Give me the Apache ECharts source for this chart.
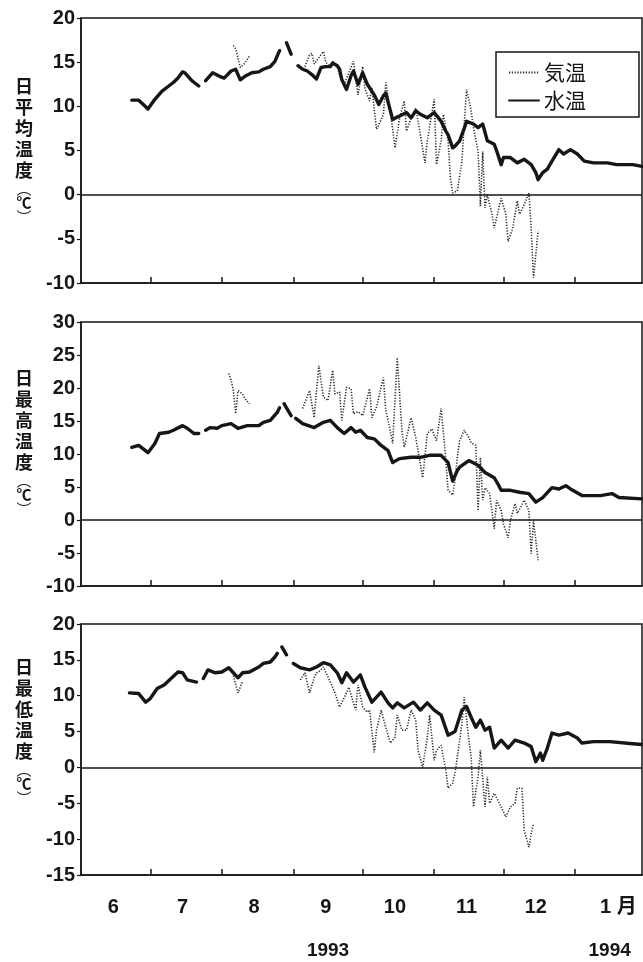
<!DOCTYPE html>
<html><head><meta charset="utf-8">
<script src="https://cdn.jsdelivr.net/npm/echarts@6/dist/echarts.min.js"></script>
<style>html,body{margin:0;padding:0;background:#fff}#c{width:643px;height:962px}</style>
</head><body><div id="c"></div>
<script>
// x values are days since 1993-06-01
const START = Date.UTC(1993, 5, 1);
function dayOf(y, m, d) { return Math.round((Date.UTC(y, m - 1, d) - START) / 86400000); }

const monthStartDates = [[1993,7,1],[1993,8,1],[1993,9,1],[1993,10,1],[1993,11,1],[1993,12,1],[1994,1,1]];
const monthLabels = ['6','7','8','9','10','11','12','1 月'];
const monthLabelDates = [[1993,6,15],[1993,7,15],[1993,8,15],[1993,9,15],[1993,10,15],[1993,11,15],[1993,12,15],[1994,1,15]];
const yearLabels = ['1993','1994'];
const yearLabelDates = [[1993,9,16],[1994,1,16]];
const axisEndDate = [1994,1,30];

const panelTitles = ['日平均温度','日最高温度','日最低温度'];
const yMins = [-10, -10, -15];
const yMaxs = [20, 30, 20];
const seriesNames = ['気温', '水温'];

// daily mean
const waterMean = [[22,10.7],[25,10.7],[27,10.2],[29,9.7],[32,10.8],[35,11.7],[38,12.3],[40,12.7],[42,13.2],[44,13.9],[45,13.8],[48,12.9],[50,12.5],[51,12.3],null,
[54,12.9],[57,13.8],[60,13.4],[62,13.2],[65,14.0],[67,14.2],[69,13.0],[71,13.4],[74,13.8],[77,13.9],[79,14.2],[82,14.5],[84,15.1],[86,16.3],null,
[89,17.2],[91,15.9],null,
[94,14.6],[96,14.2],[98,14.0],[100,13.6],[102,13.1],[104,14.4],[106,14.5],[108,14.5],[109,14.9],[111,14.6],[112,14.2],[113,13.0],[115,11.9],[117,13.5],[118,14.0],[120,12.5],[122,13.8],[124,12.5],[125,12.1],[127,11.3],[129,10.2],[131,11.2],[132,11.5],[134,9.5],[135,8.5],[137,8.8],[138,8.9],[141,9.3],[143,8.7],[145,9.5],[147,9.1],[150,8.7],[153,9.3],[156,8.3],[158,7.2],[159,6.8],[161,5.3],[162,5.5],[164,6.1],[166,7.5],[167,8.3],[170,8.0],[172,7.6],[174,8.0],[176,6.1],[179,5.7],[180,5.0],[182,3.4],[183,4.2],[186,4.2],[189,3.6],[192,4.0],[195,3.4],[197,2.5],[198,1.7],[200,2.5],[202,2.9],[204,3.8],[207,5.1],[209,4.6],[212,5.1],[215,4.6],[218,3.8],[222,3.6],[228,3.6],[232,3.4],[239,3.4],[243,3.2]];
const airMean = [[66,16.9],[67,16.5],[69,14.4],[71,14.9],[73,15.7],null,
[97,14.5],[99,15.8],[100,16.0],[101,14.8],[103,15.5],[105,16.2],[106,15.0],[108,14.5],[109,15.1],[111,14.5],[112,13.5],[114,12.5],[116,13.8],[118,15.1],[120,11.3],[122,14.5],[123,12.0],[125,10.6],[126,12.1],[128,7.4],[130,8.5],[131,9.1],[132,12.7],[134,9.5],[136,5.3],[138,8.7],[140,10.6],[141,7.2],[143,8.7],[145,9.8],[147,6.8],[149,3.6],[150,6.1],[153,10.8],[154,3.4],[156,6.1],[157,9.1],[159,6.1],[160,1.9],[161,0.2],[163,0.4],[165,3.8],[166,8.0],[167,11.9],[169,9.5],[170,7.6],[172,4.9],[173,-1.3],[174,4.9],[175,-1.5],[176,0.0],[178,-2.2],[179,-3.8],[181,-1.5],[182,-0.4],[184,-2.2],[185,-5.3],[187,-3.8],[189,-0.7],[190,-2.2],[192,-1.1],[194,0.2],[195,-3.8],[196,-9.4],[197,-6.8],[198,-4.1]];

// daily maximum
const waterMax = [[22,11.0],[25,11.3],[29,10.2],[32,11.6],[34,13.1],[38,13.3],[40,13.6],[44,14.3],[46,13.9],[49,13.1],[51,13.1],null,
[54,13.6],[56,14.0],[59,13.9],[61,14.3],[65,14.6],[68,13.9],[72,14.3],[77,14.3],[79,14.8],[82,15.1],[85,16.3],[86,17.0],null,
[88,17.6],[91,15.8],null,
[93,15.4],[96,14.6],[101,14.0],[105,14.8],[108,15.1],[111,14.0],[114,13.1],[117,14.0],[119,13.3],[121,13.6],[124,12.5],[127,12.3],[130,11.3],[133,10.5],[135,8.7],[138,9.3],[143,9.5],[147,9.5],[151,9.8],[156,9.8],[159,8.7],[161,5.9],[163,7.5],[164,8.0],[168,9.0],[172,8.3],[175,7.2],[179,6.4],[181,5.2],[182,4.5],[186,4.5],[190,4.2],[194,4.0],[197,2.7],[200,3.4],[204,4.9],[207,4.7],[210,5.2],[212,4.7],[217,3.7],[225,3.7],[230,4.0],[233,3.4],[243,3.2]];
const airMax = [[64,22.2],[65,21.2],[66,19.6],[67,16.1],[68,19.6],[70,19.1],[71,18.4],[73,17.6],null,
[96,16.9],[97,17.8],[99,19.6],[101,15.5],[103,23.4],[105,18.6],[107,18.1],[109,22.7],[110,19.1],[112,19.4],[113,15.1],[115,20.1],[117,19.9],[118,16.1],[120,16.4],[122,15.8],[125,19.9],[126,15.5],[128,17.1],[131,21.6],[132,16.6],[133,15.1],[135,11.6],[137,24.6],[139,13.6],[140,11.0],[143,15.5],[145,12.5],[147,8.5],[148,6.4],[150,13.1],[152,13.8],[154,12.0],[156,16.9],[158,9.3],[159,4.5],[161,3.8],[162,6.0],[163,9.5],[164,12.0],[166,13.6],[168,12.5],[169,11.7],[171,11.3],[172,1.4],[173,9.5],[174,3.0],[175,4.9],[177,4.0],[179,-1.3],[180,3.0],[182,1.4],[183,-0.6],[185,-2.7],[186,-0.1],[188,2.5],[189,1.0],[192,3.0],[194,1.4],[195,-5.1],[196,-0.1],[198,-6.1]];

// daily minimum
const waterMin = [[21,10.4],[25,10.3],[28,9.1],[30,9.6],[33,11.0],[36,11.5],[39,12.4],[42,13.3],[44,13.2],[46,12.2],[50,11.9],null,
[53,12.4],[55,13.6],[58,13.2],[61,13.3],[64,13.9],[66,13.2],[68,12.5],[70,13.2],[73,13.3],[77,14.0],[79,14.5],[82,14.7],[84,15.4],[85,15.9],null,
[87,16.8],[89,15.7],null,
[92,14.5],[95,13.9],[99,13.6],[102,14.0],[105,14.6],[108,14.3],[111,13.2],[113,11.8],[115,13.2],[118,11.9],[121,12.9],[123,11.2],[126,9.1],[130,10.5],[133,9.0],[135,8.3],[137,9.0],[140,8.3],[144,9.1],[147,8.0],[150,9.0],[153,8.0],[156,7.3],[159,4.5],[162,5.0],[165,8.0],[167,8.5],[169,7.0],[171,5.6],[173,6.6],[175,5.2],[177,5.6],[179,2.7],[182,3.8],[185,2.7],[188,3.8],[192,3.4],[195,2.9],[197,0.8],[199,2.0],[200,1.0],[202,2.7],[204,4.8],[207,4.5],[211,4.8],[215,4.1],[217,3.4],[222,3.6],[229,3.6],[239,3.3],[243,3.2]];
const airMin = [[66,12.8],[67,11.6],[68,10.4],[69,11.2],[70,12.0],null,
[95,12.2],[97,13.2],[99,10.4],[101,12.5],[102,13.2],[103,13.3],[105,14.0],[108,11.9],[110,10.4],[112,8.4],[115,10.4],[116,11.2],[118,9.0],[119,8.0],[120,11.5],[122,8.4],[124,7.7],[125,8.0],[127,2.1],[128,5.2],[130,8.0],[132,5.6],[134,3.4],[136,4.2],[137,7.3],[139,5.2],[141,5.2],[143,8.0],[145,6.6],[146,2.4],[148,0.0],[150,4.2],[151,7.3],[153,1.0],[154,2.4],[156,3.1],[158,-0.3],[159,-2.9],[161,-2.2],[162,-0.8],[163,1.4],[165,6.1],[166,9.8],[168,3.8],[169,1.4],[170,-5.5],[172,-1.3],[173,2.4],[175,-5.5],[176,-1.3],[177,-5.0],[179,-3.6],[182,-5.5],[184,-6.9],[186,-5.5],[188,-5.0],[189,-2.9],[191,-2.9],[192,-8.8],[194,-11.1],[195,-9.2],[196,-7.8]];

const airData = [airMean, airMax, airMin];
const waterData = [waterMean, waterMax, waterMin];

// ---------- build ----------
const INK = '#161616';
const tickDays = monthStartDates.map(d => dayOf(...d));
const labelDays = monthLabelDates.map(d => dayOf(...d));
const yearDays = yearLabelDates.map(d => dayOf(...d));
const maxDay = dayOf(...axisEndDate);
const labelMap = {}; labelDays.forEach((d, i) => labelMap[d] = monthLabels[i]);
const yearMap = {}; yearDays.forEach((d, i) => yearMap[d] = yearLabels[i]);

function withGaps(arr) {
  const out = []; let last = 0;
  arr.forEach(p => { if (p === null) out.push([last, '-']); else { out.push(p); last = p[0]; } });
  return out;
}

const grids = [
  { left: 81, right: 1, top: 18, height: 265 },
  { left: 81, right: 1, top: 322, height: 264 },
  { left: 81, right: 1, top: 624, height: 251 }
].map(g => Object.assign(g, { show: true, borderColor: INK, borderWidth: 1.5, backgroundColor: '#fff' }));

const numFont = { fontFamily: 'Liberation Sans', fontWeight: 'bold', fontSize: 20, color: INK };

const xAxes = [0, 1, 2].map(i => ({
  type: 'value', gridIndex: i, min: 0, max: maxDay, position: 'bottom',
  axisLine: { show: true, onZero: false, lineStyle: { color: INK, width: 1.5 } },
  axisTick: { show: true, inside: true, length: 6, customValues: tickDays, lineStyle: { color: INK, width: 1.5 } },
  axisLabel: Object.assign({ show: i === 2, customValues: labelDays, margin: 22,
    formatter: v => labelMap[v] === '1 月' ? '{j|1 月}' : (labelMap[v] || ''),
    rich: { j: Object.assign({}, numFont, { padding: [0, 0, 0, 22], fontFamily: 'Liberation Sans, Noto Sans CJK JP' }) } }, numFont),
  splitLine: { show: false }
}));
xAxes.push({
  type: 'value', gridIndex: 2, min: 0, max: maxDay, position: 'bottom',
  axisLine: { show: false }, axisTick: { show: false }, splitLine: { show: false },
  axisLabel: Object.assign({ customValues: yearDays, margin: 66, formatter: v => yearMap[v] || '' }, numFont, { fontSize: 19 })
});

const yAxes = [0, 1, 2].map(i => ({
  type: 'value', gridIndex: i, min: yMins[i], max: yMaxs[i], interval: 5,
  axisLine: { show: true, lineStyle: { color: INK, width: 1.5 } },
  axisTick: { show: true, length: 4, lineStyle: { color: INK, width: 1.2 } },
  axisLabel: Object.assign({ margin: 6 }, numFont),
  splitLine: { show: false }
}));

const series = [];
[0, 1, 2].forEach(i => {
  series.push({
    name: seriesNames[0], type: 'line', xAxisIndex: i, yAxisIndex: i,
    data: withGaps(airData[i]), symbol: 'none', showSymbol: false, connectNulls: false,
    lineStyle: { color: '#2a2a2a', width: 1.6, type: [1.2, 1.6] }, itemStyle: { color: '#2a2a2a' }, z: 2
  });
  series.push({
    name: seriesNames[1], type: 'line', xAxisIndex: i, yAxisIndex: i,
    data: withGaps(waterData[i]), symbol: 'none', showSymbol: false, connectNulls: false,
    lineStyle: { color: INK, width: 3.4, join: 'round', cap: 'round' }, itemStyle: { color: INK }, z: 3,
    markLine: { silent: true, symbol: ['none', 'none'], label: { show: false },
      lineStyle: { color: INK, width: 1.5, type: 'solid' }, data: [{ yAxis: 0 }], animation: false }
  });
});

const cjk = 'Noto Sans CJK JP';
const titleTops = [76, 368, 657];
const graphic = panelTitles.map((t, i) => ({
  type: 'text', x: 24, y: titleTops[i], z: 10,
  style: {
    text: t.split('').map(c => '{c|' + c + '}').join('\n') + '\n{p|︵}\n{t|℃}\n{p|︶}',
    textAlign: 'center', textVerticalAlign: 'top',
    rich: {
      c: { fontFamily: cjk, fontWeight: 'bold', fontSize: 18, lineHeight: 21, fill: INK, align: 'center' },
      p: { fontFamily: cjk, fontSize: 15, lineHeight: 14, fill: INK, align: 'center' },
      t: { fontFamily: cjk, fontWeight: 'bold', fontSize: 15, lineHeight: 15, fill: INK, align: 'center' }
    }
  }
}));

const chart = echarts.init(document.getElementById('c'), null, { renderer: 'canvas' });
chart.setOption({
  backgroundColor: '#fff',
  animation: false,
  grid: grids,
  xAxis: xAxes,
  yAxis: yAxes,
  legend: {
    data: seriesNames, left: 496, top: 52, orient: 'vertical', selectedMode: false,
    itemWidth: 30, itemHeight: 14, itemGap: 7, padding: [10, 53, 6, 12],
    borderColor: INK, borderWidth: 1.5, backgroundColor: '#fff',
    itemStyle: { opacity: 0, borderWidth: 0 },
    textStyle: { fontFamily: cjk, fontSize: 21, lineHeight: 21, color: INK }
  },
  graphic: graphic,
  series: series
});
</script></body></html>
